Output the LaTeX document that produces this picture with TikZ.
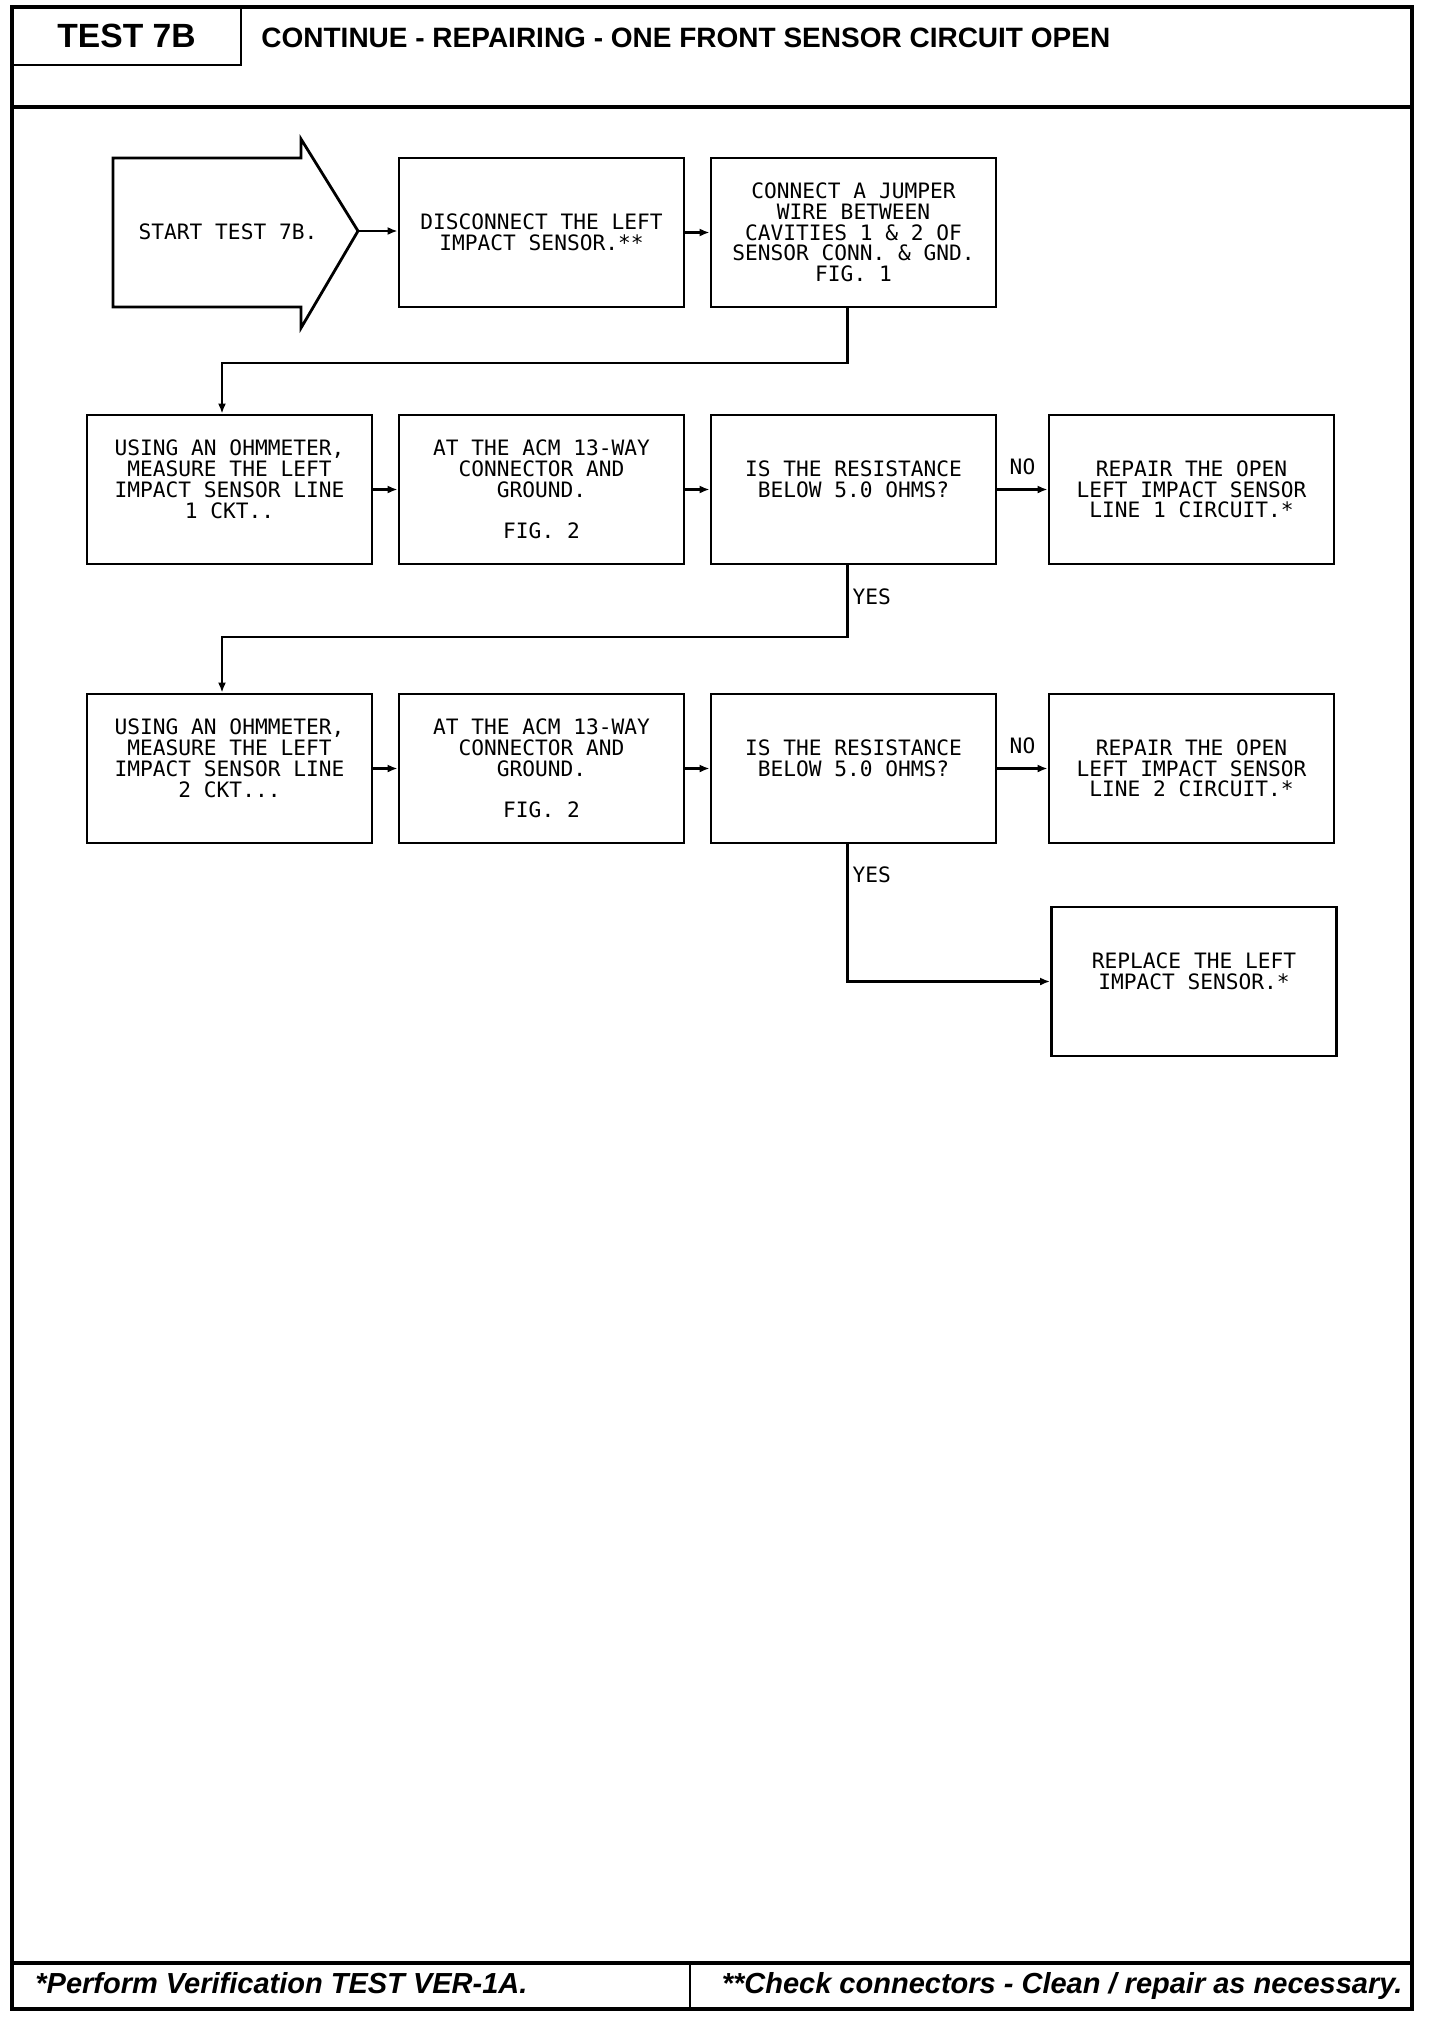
\documentclass[tikz,border=0pt]{standalone}
\usepackage{fontspec}
\setmainfont{Liberation Sans}
\newfontfamily\plotfont{DejaVu Sans Mono}
\usetikzlibrary{arrows.meta, positioning}

\tikzset{
  stepbox/.style={draw, line width=1.4pt, minimum width=142.5pt, minimum height=74.5pt,
    inner sep=0pt, align=center, font=\plotfont\fontsize{10.6}{10.35}\selectfont},
  flow/.style={line width=1.1pt, -{Latex[length=5pt,width=4pt]}},
  lbl/.style={font=\plotfont\fontsize{10.6}{10.35}\selectfont, inner sep=2pt},
  frame/.style={line width=1.6pt}
}

\begin{document}
\begin{tikzpicture}[x=0.5pt, y=-0.5pt]
  \useasboundingbox (0,0) rectangle (1440,2024);

  % page frame, header and footer
  \draw[frame] (12,7) rectangle (1412,2009);
  \draw[frame] (12,107) -- (1412,107);
  \draw[frame] (12,1963) -- (1412,1963);
  \draw[line width=1.2pt] (690,1963) -- (690,2009);
  \node[draw, line width=1.2pt, minimum width=114.5pt, minimum height=29pt, inner sep=0pt,
    font=\bfseries\fontsize{16.8}{18}\selectfont] (testno) at (126.5,36) {TEST 7B};
  \node[anchor=west, inner sep=0pt, font=\bfseries\fontsize{14}{16}\selectfont] (title)
    at (261,38) {CONTINUE - REPAIRING - ONE FRONT SENSOR CIRCUIT OPEN};
  \node[anchor=base west, inner sep=0pt, font=\bfseries\itshape\fontsize{14.5}{16}\selectfont] (note1)
    at (35,1993) {*Perform Verification TEST VER-1A.};
  \node[anchor=base east, inner sep=0pt, font=\bfseries\itshape\fontsize{14.5}{16}\selectfont] (note2)
    at (1403,1993) {**Check connectors - Clean / repair as necessary.};

  % start arrow
  \draw[line width=1.4pt] (113,158) -- (301,158) -- (301,139) -- (358,231)
    -- (301,328) -- (301,307) -- (113,307) -- cycle;
  \node[lbl] (start) at (228,232) {START TEST 7B.};
  \coordinate (starttip) at (358,231);

  % row 1
  \node[stepbox] (disc) at (541.5,232.5) {DISCONNECT THE LEFT\\IMPACT SENSOR.**};
  \node[stepbox] (conn) at (853.5,232.5) {CONNECT A JUMPER\\WIRE BETWEEN\\CAVITIES 1 \& 2 OF\\SENSOR CONN. \& GND.\\FIG. 1};

  % row 2
  \node[stepbox] (r2a) at (229.5,489.5) {USING AN OHMMETER,\\MEASURE THE LEFT\\IMPACT SENSOR LINE\\1 CKT..\\~};
  \node[stepbox] (r2b) at (541.5,489.5) {AT THE ACM 13-WAY\\CONNECTOR AND\\GROUND.\\[10.35pt]FIG. 2};
  \node[stepbox] (r2c) at (853.5,489.5) {IS THE RESISTANCE\\BELOW 5.0 OHMS?\\~};
  \node[stepbox] (r2d) at (1191.5,489.5) {REPAIR THE OPEN\\LEFT IMPACT SENSOR\\LINE 1 CIRCUIT.*};

  % row 3
  \node[stepbox] (r3a) at (229.5,768.5) {USING AN OHMMETER,\\MEASURE THE LEFT\\IMPACT SENSOR LINE\\2 CKT...\\~};
  \node[stepbox] (r3b) at (541.5,768.5) {AT THE ACM 13-WAY\\CONNECTOR AND\\GROUND.\\[10.35pt]FIG. 2};
  \node[stepbox] (r3c) at (853.5,768.5) {IS THE RESISTANCE\\BELOW 5.0 OHMS?\\~};
  \node[stepbox] (r3d) at (1191.5,768.5) {REPAIR THE OPEN\\LEFT IMPACT SENSOR\\LINE 2 CIRCUIT.*};

  \node[stepbox] (repl) at (1194,981.5) {REPLACE THE LEFT\\IMPACT SENSOR.*\\~};

  % connectors
  \draw[flow] (starttip) -- (starttip -| disc.west);
  \draw[flow] (disc) -- (conn);
  \coordinate (j1) at (222,363);
  \draw[flow] ([xshift=-3pt]conn.south) |- (j1) -- (j1 |- r2a.north);
  \draw[flow] (r2a) -- (r2b);
  \draw[flow] (r2b) -- (r2c);
  \draw[flow] (r2c) -- node[lbl, above=5pt] {NO} (r2d);
  \coordinate (j2) at (222,637);
  \draw[flow] ([xshift=-3pt]r2c.south) |- node[lbl, right, pos=0.22] {YES} (j2) -- (j2 |- r3a.north);
  \draw[flow] (r3a) -- (r3b);
  \draw[flow] (r3b) -- (r3c);
  \draw[flow] (r3c) -- node[lbl, above=5pt] {NO} (r3d);
  \draw[flow] ([xshift=-3pt]r3c.south) |- node[lbl, right, pos=0.11] {YES} (repl.west);
\end{tikzpicture}
\end{document}
